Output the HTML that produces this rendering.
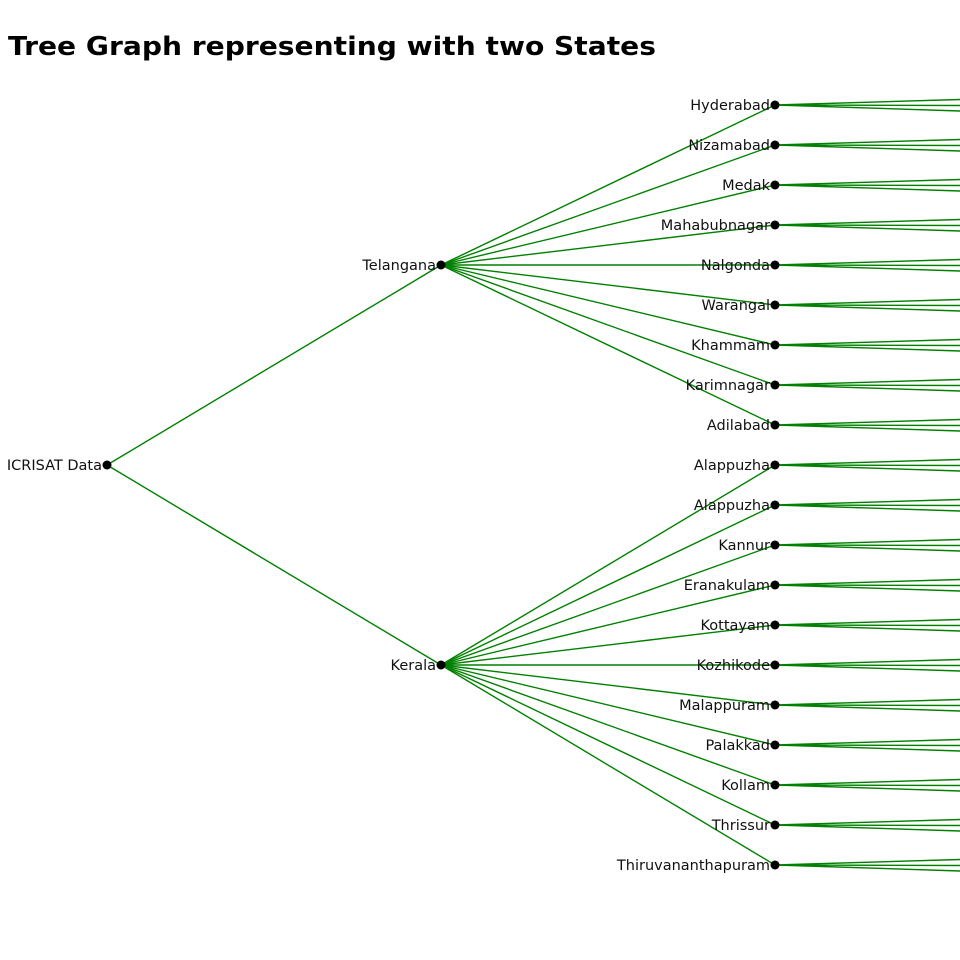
<!DOCTYPE html>
<html><head><meta charset="utf-8"><style>
html,body{margin:0;padding:0;background:#fff;width:960px;height:960px;overflow:hidden}
svg{display:block}
text{font-family:"DejaVu Sans","Liberation Sans",sans-serif;font-size:14.5px;fill:#111}
.t{font-family:"DejaVu Sans","Liberation Sans",sans-serif;font-weight:bold;font-size:26px;fill:#000}
</style></head><body>
<svg id="s" width="960" height="960" xmlns="http://www.w3.org/2000/svg">
<text class="t" x="8" y="55" textLength="648" lengthAdjust="spacingAndGlyphs">Tree Graph representing with two States</text>
<g stroke="#008000" stroke-width="1.4" fill="none">
<line x1="107" y1="465" x2="441" y2="265"/><line x1="107" y1="465" x2="441" y2="665"/>
<line x1="441" y1="265" x2="775" y2="105"/><line x1="441" y1="265" x2="775" y2="145"/><line x1="441" y1="265" x2="775" y2="185"/><line x1="441" y1="265" x2="775" y2="225"/><line x1="441" y1="265" x2="775" y2="265"/><line x1="441" y1="265" x2="775" y2="305"/><line x1="441" y1="265" x2="775" y2="345"/><line x1="441" y1="265" x2="775" y2="385"/><line x1="441" y1="265" x2="775" y2="425"/>
<line x1="441" y1="665" x2="775" y2="465"/><line x1="441" y1="665" x2="775" y2="505"/><line x1="441" y1="665" x2="775" y2="545"/><line x1="441" y1="665" x2="775" y2="585"/><line x1="441" y1="665" x2="775" y2="625"/><line x1="441" y1="665" x2="775" y2="665"/><line x1="441" y1="665" x2="775" y2="705"/><line x1="441" y1="665" x2="775" y2="745"/><line x1="441" y1="665" x2="775" y2="785"/><line x1="441" y1="665" x2="775" y2="825"/><line x1="441" y1="665" x2="775" y2="865"/>
<path d="M775 105L960 99.5M775 105L960 105.5M775 105L960 111M775 145L960 139.5M775 145L960 145.5M775 145L960 151M775 185L960 179.5M775 185L960 185.5M775 185L960 191M775 225L960 219.5M775 225L960 225.5M775 225L960 231M775 265L960 259.5M775 265L960 265.5M775 265L960 271M775 305L960 299.5M775 305L960 305.5M775 305L960 311M775 345L960 339.5M775 345L960 345.5M775 345L960 351M775 385L960 379.5M775 385L960 385.5M775 385L960 391M775 425L960 419.5M775 425L960 425.5M775 425L960 431M775 465L960 459.5M775 465L960 465.5M775 465L960 471M775 505L960 499.5M775 505L960 505.5M775 505L960 511M775 545L960 539.5M775 545L960 545.5M775 545L960 551M775 585L960 579.5M775 585L960 585.5M775 585L960 591M775 625L960 619.5M775 625L960 625.5M775 625L960 631M775 665L960 659.5M775 665L960 665.5M775 665L960 671M775 705L960 699.5M775 705L960 705.5M775 705L960 711M775 745L960 739.5M775 745L960 745.5M775 745L960 751M775 785L960 779.5M775 785L960 785.5M775 785L960 791M775 825L960 819.5M775 825L960 825.5M775 825L960 831M775 865L960 859.5M775 865L960 865.5M775 865L960 871"/>
</g>
<g fill="#000">
<circle cx="107" cy="465" r="4.5"/><circle cx="441" cy="265" r="4.5"/><circle cx="441" cy="665" r="4.5"/>
<circle cx="775" cy="105" r="4.5"/><circle cx="775" cy="145" r="4.5"/><circle cx="775" cy="185" r="4.5"/><circle cx="775" cy="225" r="4.5"/><circle cx="775" cy="265" r="4.5"/><circle cx="775" cy="305" r="4.5"/><circle cx="775" cy="345" r="4.5"/><circle cx="775" cy="385" r="4.5"/><circle cx="775" cy="425" r="4.5"/><circle cx="775" cy="465" r="4.5"/><circle cx="775" cy="505" r="4.5"/><circle cx="775" cy="545" r="4.5"/><circle cx="775" cy="585" r="4.5"/><circle cx="775" cy="625" r="4.5"/><circle cx="775" cy="665" r="4.5"/><circle cx="775" cy="705" r="4.5"/><circle cx="775" cy="745" r="4.5"/><circle cx="775" cy="785" r="4.5"/><circle cx="775" cy="825" r="4.5"/><circle cx="775" cy="865" r="4.5"/>
</g>
<g text-anchor="end">
<text x="102" y="470">ICRISAT Data</text>
<text x="436" y="270">Telangana</text>
<text x="436" y="670">Kerala</text>
<text x="770" y="110">Hyderabad</text><text x="770" y="150">Nizamabad</text><text x="770" y="190">Medak</text><text x="770" y="230">Mahabubnagar</text><text x="770" y="270">Nalgonda</text><text x="770" y="310">Warangal</text><text x="770" y="350">Khammam</text><text x="770" y="390">Karimnagar</text><text x="770" y="430">Adilabad</text>
<text x="770" y="470">Alappuzha</text><text x="770" y="510">Alappuzha</text><text x="770" y="550">Kannur</text><text x="770" y="590">Eranakulam</text><text x="770" y="630">Kottayam</text><text x="770" y="670">Kozhikode</text><text x="770" y="710">Malappuram</text><text x="770" y="750">Palakkad</text><text x="770" y="790">Kollam</text><text x="770" y="830">Thrissur</text><text x="770" y="870">Thiruvananthapuram</text>
</g>
</svg>
</body></html>
